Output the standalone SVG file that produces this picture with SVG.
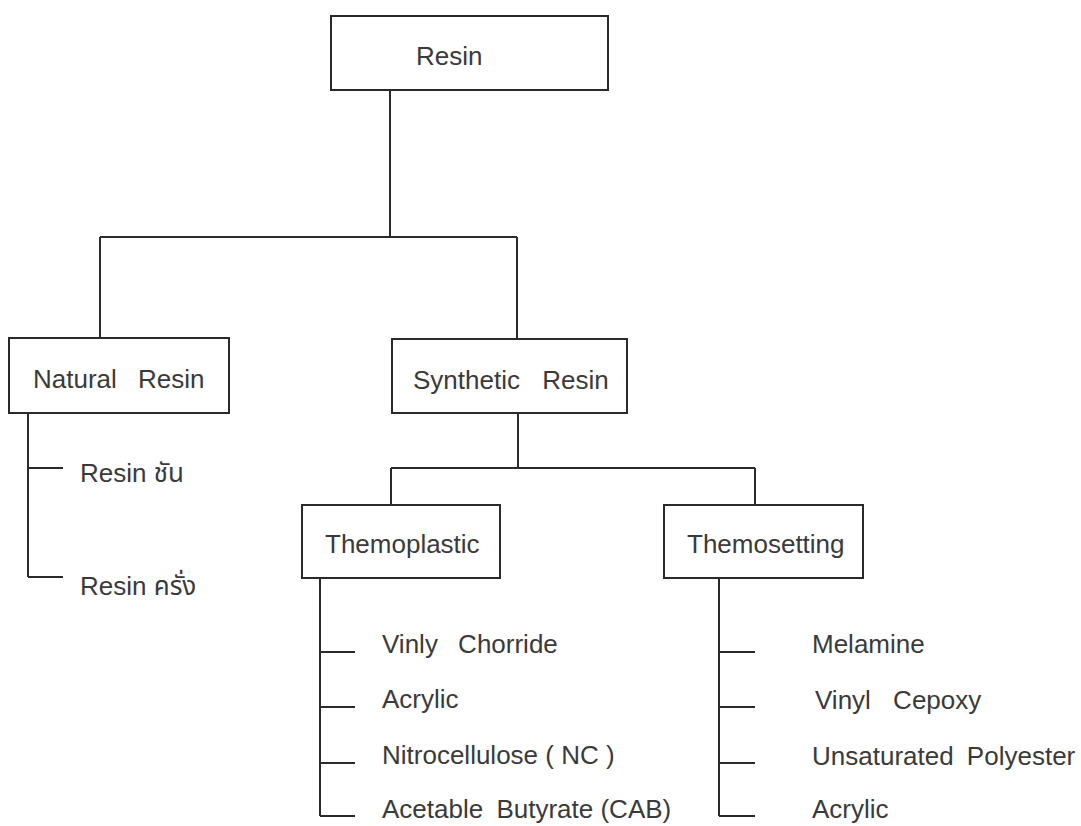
<svg xmlns="http://www.w3.org/2000/svg" width="1081" height="826" viewBox="0 0 1081 826">
<style>
.box{fill:#fff;stroke:#2a2a2a;stroke-width:2}
.ln{fill:none;stroke:#2a2a2a;stroke-width:2}
text{font-family:"Liberation Sans","Noto Sans Thai","Noto Sans",sans-serif;font-size:26px;fill:#3a3a3a}
</style>
<rect width="1081" height="826" fill="#fff"/>
<g id="connectors">
<path class="ln" d="M390,90V237M100,237H517M100,237V338M517,237V339"/>
<path class="ln" d="M518,413V468M391,468H755M391,468V505M755,468V505"/>
<path class="ln" d="M28,413V577M28,468H63M28,577H63"/>
<path class="ln" d="M320,578V816M320,652H355M320,707H355M320,763H355M320,816H355"/>
<path class="ln" d="M719,578V816M719,652H755M719,707H755M719,763H755M719,816H755"/>
</g>
<g id="resin"><rect class="box" x="331" y="16" width="277" height="74"/><text x="416" y="65">Resin</text></g>
<g id="natural"><rect class="box" x="9" y="338" width="220" height="75"/><text x="33" y="388" word-spacing="14">Natural Resin</text></g>
<g id="synthetic"><rect class="box" x="392" y="339" width="235" height="74"/><text x="413" y="389" word-spacing="15">Synthetic Resin</text></g>
<g id="themoplastic"><rect class="box" x="302" y="505" width="198" height="73"/><text x="325" y="553">Themoplastic</text></g>
<g id="themosetting"><rect class="box" x="664" y="505" width="199" height="73"/><text x="687" y="553">Themosetting</text></g>
<g id="natural-items">
<text x="80" y="482">Resin ชัน</text>
<text x="80" y="595">Resin ครั่ง</text>
</g>
<g id="themoplastic-items">
<text x="382" y="653" word-spacing="13">Vinly Chorride</text>
<text x="382" y="708">Acrylic</text>
<text x="382" y="764">Nitrocellulose ( NC )</text>
<text x="382" y="818">Acetable <tspan dx="6">Butyrate (CAB)</tspan></text>
</g>
<g id="themosetting-items">
<text x="812" y="653">Melamine</text>
<text x="815" y="709" word-spacing="15">Vinyl Cepoxy</text>
<text x="812" y="765" word-spacing="6">Unsaturated Polyester</text>
<text x="812" y="818">Acrylic</text>
</g>
</svg>
